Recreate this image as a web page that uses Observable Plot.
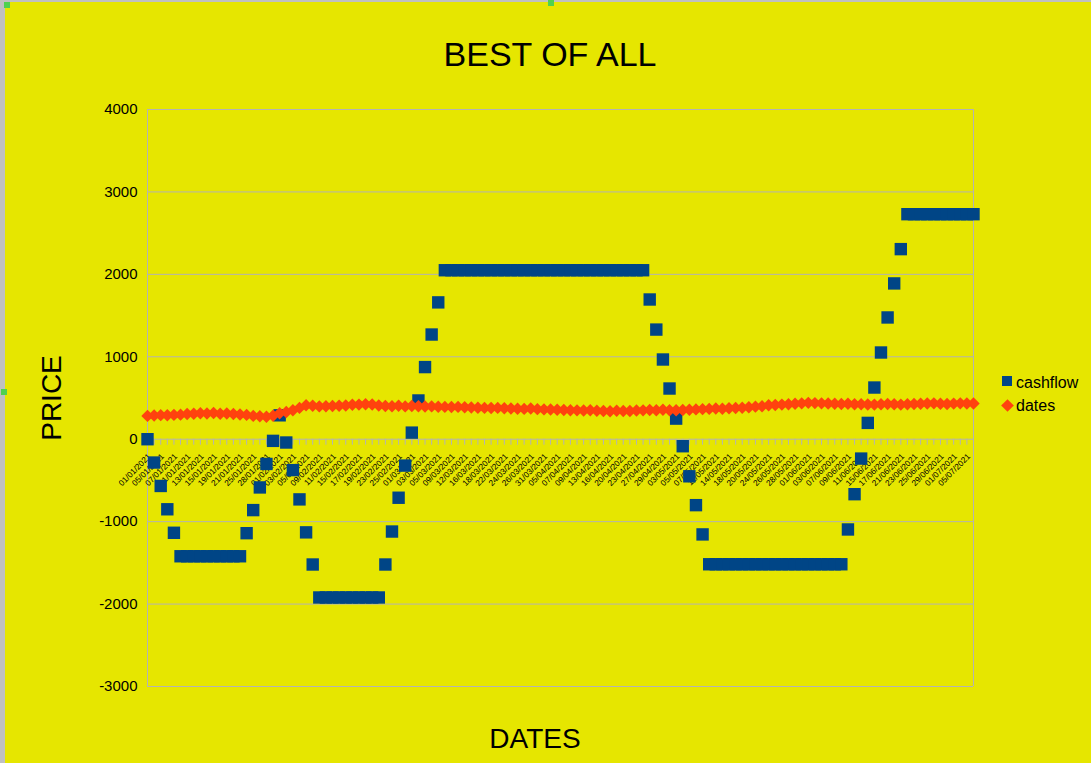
<!DOCTYPE html>
<html><head><meta charset="utf-8">
<script src="https://cdn.jsdelivr.net/npm/d3@7"></script>
<script src="https://cdn.jsdelivr.net/npm/@observablehq/plot@0.6"></script>
<style>
html,body{margin:0;padding:0;}
body{width:1091px;height:763px;overflow:hidden;background:#e6e600;position:relative;font-family:"Liberation Sans",Arial,sans-serif;}
#chart{position:absolute;left:0;top:0;}
.t{position:absolute;color:#000;white-space:nowrap;line-height:1;}
.deco{position:absolute;}
</style></head><body>
<div class="deco" style="left:0;top:0;width:5px;height:763px;background:#c0c0c0"></div>
<div class="deco" style="left:0;top:0;width:1091px;height:2px;background:#c0c0c0"></div>
<div class="deco" style="left:4px;top:2px;width:6px;height:6px;background:#4fd14f"></div>
<div class="deco" style="left:548px;top:0px;width:6px;height:6px;background:#4fd14f"></div>
<div class="deco" style="left:1px;top:389px;width:6px;height:6px;background:#4fd14f"></div>
<div id="chart"></div>
<div class="t" style="left:0;width:1100px;text-align:center;top:37px;font-size:34px;">BEST OF ALL</div>
<div class="t" style="left:0;width:1070px;text-align:center;top:725px;font-size:28px;">DATES</div>
<div class="t" style="left:52px;top:398px;font-size:28px;transform:translate(-50%,-50%) rotate(-90deg);">PRICE</div>
<div class="deco" style="left:1002px;top:376px;width:10px;height:10px;background:#004586"></div>
<div class="t" style="left:1016px;top:374.5px;font-size:16px;">cashflow</div>
<div class="deco" style="left:1003px;top:400.5px;width:9px;height:9px;background:#ff420e;transform:rotate(45deg)"></div>
<div class="t" style="left:1016px;top:397.5px;font-size:16px;">dates</div>
<script>
const dates = [
"01/01/2021","04/01/2021","05/01/2021","06/01/2021","07/01/2021","08/01/2021","11/01/2021","12/01/2021","13/01/2021","14/01/2021","15/01/2021","18/01/2021","19/01/2021","20/01/2021","21/01/2021","22/01/2021","25/01/2021","27/01/2021","28/01/2021","29/01/2021",
"01/02/2021","02/02/2021","03/02/2021","04/02/2021","05/02/2021","08/02/2021","09/02/2021","10/02/2021","11/02/2021","12/02/2021","15/02/2021","16/02/2021","17/02/2021","18/02/2021","19/02/2021","22/02/2021","23/02/2021","24/02/2021","25/02/2021","26/02/2021",
"01/03/2021","02/03/2021","03/03/2021","04/03/2021","05/03/2021","08/03/2021","09/03/2021","10/03/2021","12/03/2021","15/03/2021","16/03/2021","17/03/2021","18/03/2021","19/03/2021","22/03/2021","23/03/2021","24/03/2021","25/03/2021","26/03/2021","30/03/2021","31/03/2021",
"01/04/2021","05/04/2021","06/04/2021","07/04/2021","08/04/2021","09/04/2021","12/04/2021","13/04/2021","15/04/2021","16/04/2021","19/04/2021","20/04/2021","22/04/2021","23/04/2021","26/04/2021","27/04/2021","28/04/2021","29/04/2021","30/04/2021",
"03/05/2021","04/05/2021","05/05/2021","06/05/2021","07/05/2021","10/05/2021","11/05/2021","12/05/2021","14/05/2021","17/05/2021","18/05/2021","19/05/2021","20/05/2021","21/05/2021","24/05/2021","25/05/2021","26/05/2021","27/05/2021","28/05/2021","31/05/2021",
"01/06/2021","02/06/2021","03/06/2021","04/06/2021","07/06/2021","08/06/2021","09/06/2021","10/06/2021","11/06/2021","14/06/2021","15/06/2021","16/06/2021","17/06/2021","18/06/2021","21/06/2021","22/06/2021","23/06/2021","24/06/2021","25/06/2021","28/06/2021","29/06/2021","30/06/2021",
"01/07/2021","02/07/2021","05/07/2021","06/07/2021"
];
const cashflow = [
0,-283,-567,-850,-1135,
-1420,-1420,-1420,-1420,-1420,-1420,-1420,-1420,-1420,-1420,
-1140,-860,-585,-300,-20,
290,-40,-375,-730,-1130,-1520,
-1920,-1920,-1920,-1920,-1920,-1920,-1920,-1920,-1920,-1920,
-1520,-1120,-710,-320,80,470,875,1270,1660,
2050,2050,2050,2050,2050,2050,2050,2050,2050,2050,2050,2050,2050,2050,2050,2050,2050,2050,2050,2050,2050,2050,2050,2050,2050,2050,2050,2050,2050,2050,2050,
1695,1330,967,615,250,-85,-450,-800,-1155,
-1517,-1517,-1517,-1517,-1517,-1517,-1517,-1517,-1517,-1517,-1517,-1517,-1517,-1517,-1517,-1517,-1517,-1517,-1517,-1517,-1517,
-1095,-667,-235,198,627,1052,1477,1890,2306,
2730,2730,2730,2730,2730,2730,2730,2730,2730,2730,2730
];
const datesSeries = [
283,288,292,290,295, 298,305,310,315,312, 318,310,312,305,300, 295,283,278,272,285,
315,330,352,380,412, 405,398,400,402,405, 410,418,420,425,422, 410,402,400,405,398,
402,400,396,398,394, 392,390,392,388,385, 382,380,378,380,376, 372,370,368,372,365,
362,360,358,355,352, 350,348,352,345,342, 340,345,342,343,348, 350,355,352,358,352,
352,355,358,362,365, 368,372,370,375,378, 382,388,395,400,412, 415,420,425,430,435,
441,438,435,433,430, 428,430,425,425,422, 420,425,428,425,420, 425,428,430,433,435,
430,428,432,435,433, 433
];
const yTicks = [-3000,-2000,-1000,0,1000,2000,3000,4000];
const seriesNames = ["cashflow","dates"];
const seriesColors = ["#004586","#ff420e"];

const rows = dates.map((d,i)=>({date:d, cashflow:cashflow[i], dates:datesSeries[i]}));
const labelDates = dates.filter((d,i)=> i % 2 === 0);

const plot = Plot.plot({
  width:1091, height:763,
  marginLeft:147, marginRight:118, marginTop:109, marginBottom:77,
  style:{background:"transparent", fontFamily:"'Liberation Sans', Arial, sans-serif", overflow:"visible", color:"#000"},
  x:{type:"point", domain:dates, padding:0, axis:null},
  y:{domain:[-3000,4000]},
  marks:[
    Plot.ruleY(yTicks, {stroke:"#b3b3b3", strokeWidth:1}),
    Plot.ruleX([dates[0], dates[dates.length-1]], {stroke:"#b3b3b3", strokeWidth:1}),
    Plot.ruleX(dates, {x:d=>d, y1:0, y2:0, insetBottom:-6, stroke:"#b3b3b3", strokeWidth:1}),
    Plot.axisY(yTicks, {tickSize:0, tickPadding:10, fontSize:15, label:null, tickFormat:d=>String(d)}),
    Plot.text(labelDates, {x:d=>d, y:0, text:d=>d, rotate:-45, textAnchor:"end", fontSize:8.3, dx:2, dy:16, fill:"#000"}),
    Plot.dot(rows, {x:"date", y:"cashflow", symbol:"square", r:7, fill:seriesColors[0]}),
    Plot.dot(rows, {x:"date", y:"dates", symbol:"diamond2", r:5.6, fill:seriesColors[1]})
  ]
});
document.getElementById("chart").appendChild(plot);
</script>
</body></html>
